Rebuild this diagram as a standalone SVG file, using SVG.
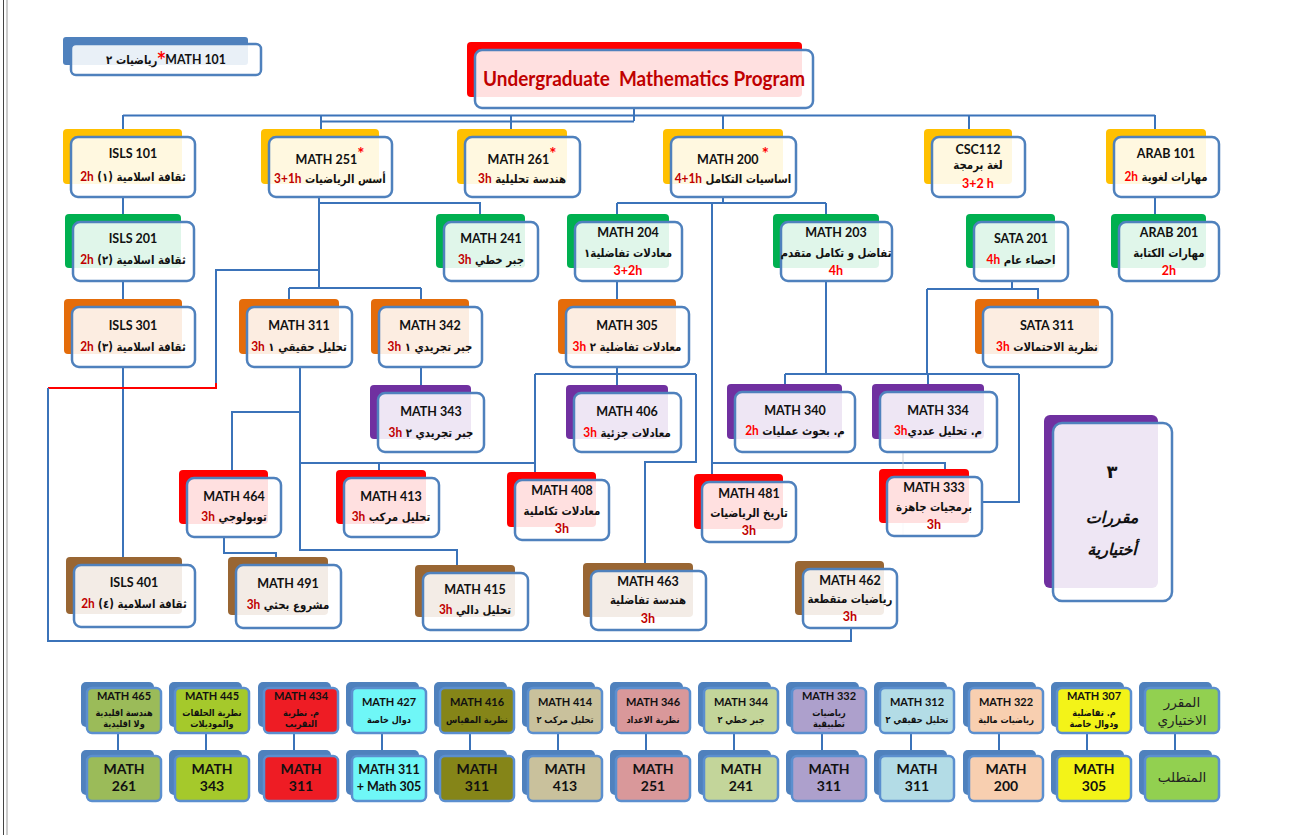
<svg xmlns="http://www.w3.org/2000/svg" width="1307" height="835" viewBox="0 0 1307 835">
<style>
  .gold{fill:#FFC000}.green{fill:#00B050}.orange{fill:#E46C0A}.purple{fill:#7030A0}
  .red{fill:#FF0000}.brown{fill:#996633}.blue{fill:#4F81BD}
  .face{fill:#fff;fill-opacity:.88;stroke:#4F81BD;stroke-width:2.5}
  .c{font-family:Lato,'DejaVu Sans',sans-serif;font-weight:700;font-size:12.5px;fill:#111;text-anchor:middle}
  .a{font-family:'DejaVu Sans',sans-serif;font-weight:700;font-size:11.6px;fill:#111;text-anchor:middle;direction:rtl;
     transform-box:fill-box;transform-origin:center;transform:scaleX(.88)}
  .dr{fill:#C00000;font-family:Lato,sans-serif;font-size:13.5px}
  .br{fill:#FF0000;font-family:Lato,sans-serif;font-size:13.5px}
  .star{fill:#FF0000;font-size:17px}
  .wire{fill:none;stroke:#3B73B9;stroke-width:2}
  .wire-red{fill:none;stroke:#FF0000;stroke-width:2}
  .cell-bk{fill:#4F81BD}
  .cell{stroke:#5B8FCF;stroke-width:2.5}
  .tc{font-family:Lato,'DejaVu Sans',sans-serif;font-weight:700;font-size:11px;fill:#111;text-anchor:middle}
  .ta{font-family:'DejaVu Sans',sans-serif;font-weight:700;font-size:9.3px;fill:#111;text-anchor:middle;direction:rtl;
      transform-box:fill-box;transform-origin:center;transform:scaleX(.88)}
  .bc{font-family:Lato,'DejaVu Sans',sans-serif;font-weight:700;font-size:14px;fill:#111;text-anchor:middle}
  .hd{font-family:'DejaVu Sans',sans-serif;font-size:13.5px;fill:#222;text-anchor:middle;direction:rtl}
  .el{font-family:'DejaVu Sans',sans-serif;font-weight:700;font-style:italic;font-size:16px;fill:#111;text-anchor:middle;direction:rtl}
</style>
<rect width="1307" height="835" fill="#fff"/>
<!-- page edge -->
<line x1="3.5" y1="0" x2="3.5" y2="835" stroke="#444" stroke-width="1"/>
<line x1="7" y1="0" x2="7" y2="835" stroke="#999" stroke-width="1"/>

<!-- connectors -->
<g id="connectors">
  <path class="wire" d="M634,108V121M123,115.5H1155M321,121.5H634M123,115V129M321,115V129M511,115V129M723,115V129M969,115V129M1155,115V129"/>
  <path class="wire" d="M123,197V214M123,281V299M123,367V557"/>
  <path class="wire" d="M319,197V288M319,203H480V214M319,270H216V383"/>
  <path class="wire-red" d="M216,383V388H48"/>
  <path class="wire" d="M48,388V641H851V628"/>
  <path class="wire" d="M289,288H421M289,288V299M421,288V299"/>
  <path class="wire" d="M300,367V550H457V565M300,412H232V470M300,463H535M379,463V470M224,537V553H276V557"/>
  <path class="wire" d="M421,367V385"/>
  <path class="wire" d="M617,367V374M535,374H696M535,374V472M617,374V385M696,374V462H645V563"/>
  <path class="wire" d="M723,197V203M617,203H826M617,203V214M826,203V214M712,203V474M712,463H945V469"/>
  <path class="wire" d="M617,281V299"/>
  <path class="wire" d="M826,281V374M785,374H1019M785,374V384M928,374V384M1019,374V502H982"/>
  <path class="wire" d="M1012,281V289M927,289H1038V299M927,289V374"/>
  <path class="wire" d="M1155,197V214"/>
  <line x1="903" y1="452" x2="903" y2="537" stroke="#B8C0CC" stroke-width="0.8"/>
</g>

<!-- title -->
<g id="title">
  <rect class="red" x="467" y="42" width="335" height="55" rx="4"/>
  <rect class="face" x="475" y="50" width="338" height="58" rx="7"/>
  <text x="644" y="86" text-anchor="middle" textLength="322" lengthAdjust="spacingAndGlyphs" font-family="Lato, sans-serif" font-weight="700" font-size="21" fill="#C00000">Undergraduate&#160; Mathematics Program</text>
</g>

<g id="math101">
  <rect class="blue" x="63" y="37" width="185" height="28" rx="3"/>
  <rect class="face" x="71" y="44" width="190" height="31" rx="5"/>
  <text class="a" x="166" y="64"><tspan font-family="Lato, sans-serif" font-size="14">MATH 101</tspan><tspan class="star">*</tspan>رياضيات ٢</text>
</g>

<!-- first level -->
<g id="isls101">
  <rect class="gold" x="63" y="129" width="119" height="55" rx="4"/>
  <rect class="face" x="71" y="137" width="124" height="60" rx="7"/>
  <text class="c" x="133" y="158">ISLS 101</text>
  <text class="a" x="133" y="181">ثقافة اسلامية (١) <tspan class="dr">&#x2066;2h&#x2069;</tspan></text>
</g>
<g id="math251">
  <rect class="gold" x="261" y="129" width="118" height="55" rx="4"/>
  <rect class="face" x="269" y="137" width="123" height="60" rx="7"/>
  <text class="c" x="330" y="164">MATH 251<tspan class="star" dy="-4">*</tspan></text>
  <text class="a" x="330" y="183">أسس الرياضيات <tspan class="dr">&#x2066;3+1h&#x2069;</tspan></text>
</g>
<g id="math261">
  <rect class="gold" x="457" y="129" width="110" height="55" rx="4"/>
  <rect class="face" x="465" y="137" width="115" height="60" rx="7"/>
  <text class="c" x="522" y="164">MATH 261<tspan class="star" dy="-4">*</tspan></text>
  <text class="a" x="522" y="183">هندسة تحليلية  <tspan class="dr">&#x2066;3h&#x2069;</tspan></text>
</g>
<g id="math200">
  <rect class="gold" x="663" y="129" width="120" height="55" rx="4"/>
  <rect class="face" x="671" y="137" width="125" height="60" rx="7"/>
  <text class="c" x="733" y="164">MATH 200 <tspan class="star" dy="-4">*</tspan></text>
  <text class="a" x="733" y="183">اساسيات التكامل  <tspan class="dr">&#x2066;4+1h&#x2069;</tspan></text>
</g>
<g id="csc112">
  <rect class="gold" x="924" y="129" width="88" height="55" rx="4"/>
  <rect class="face" x="932" y="137" width="93" height="60" rx="7"/>
  <text class="c" x="978" y="154">CSC112</text>
  <text class="a" x="978" y="169">لغة برمجة</text>
  <text class="c" x="978" y="188" style="fill:#FF0000">3+2 h</text>
</g>
<g id="arab101">
  <rect class="gold" x="1106" y="129" width="100" height="55" rx="4"/>
  <rect class="face" x="1114" y="137" width="105" height="60" rx="7"/>
  <text class="c" x="1166" y="158">ARAB 101</text>
  <text class="a" x="1166" y="181">مهارات لغوية <tspan class="br">&#x2066;2h&#x2069;</tspan></text>
</g>

<!-- second level -->
<g id="isls201">
  <rect class="green" x="65" y="214" width="116" height="54" rx="4"/>
  <rect class="face" x="73" y="222" width="121" height="59" rx="7"/>
  <text class="c" x="133" y="243">ISLS 201</text>
  <text class="a" x="133" y="264">ثقافة اسلامية (٢) <tspan class="dr">&#x2066;2h&#x2069;</tspan></text>
</g>
<g id="math241">
  <rect class="green" x="436" y="214" width="89" height="54" rx="4"/>
  <rect class="face" x="444" y="222" width="94" height="59" rx="7"/>
  <text class="c" x="491" y="243">MATH 241</text>
  <text class="a" x="491" y="264">جبر خطي <tspan class="dr">&#x2066;3h&#x2069;</tspan></text>
</g>
<g id="math204">
  <rect class="green" x="567" y="214" width="102" height="54" rx="4"/>
  <rect class="face" x="575" y="222" width="107" height="59" rx="7"/>
  <text class="c" x="628" y="237">MATH 204</text>
  <text class="a" x="628" y="257">معادلات تفاضلية١</text>
  <text class="c" x="628" y="275" style="fill:#FF0000">3+2h</text>
</g>
<g id="math203">
  <rect class="green" x="773" y="214" width="106" height="54" rx="4"/>
  <rect class="face" x="781" y="222" width="111" height="59" rx="7"/>
  <text class="c" x="836" y="237">MATH 203</text>
  <text class="a" x="836" y="257">تفاضل و تكامل متقدم</text>
  <text class="c" x="836" y="275" style="fill:#FF0000">4h</text>
</g>
<g id="sata201">
  <rect class="green" x="966" y="214" width="89" height="54" rx="4"/>
  <rect class="face" x="974" y="222" width="94" height="59" rx="7"/>
  <text class="c" x="1021" y="243">SATA 201</text>
  <text class="a" x="1021" y="264">احصاء عام  <tspan class="br">&#x2066;4h&#x2069;</tspan></text>
</g>
<g id="arab201">
  <rect class="green" x="1111" y="214" width="95" height="54" rx="4"/>
  <rect class="face" x="1119" y="222" width="100" height="59" rx="7"/>
  <text class="c" x="1169" y="237">ARAB 201</text>
  <text class="a" x="1169" y="257">مهارات الكتابة</text>
  <text class="c" x="1169" y="275" style="fill:#FF0000">2h</text>
</g>

<!-- third level -->
<g id="isls301">
  <rect class="orange" x="64" y="299" width="118" height="55" rx="4"/>
  <rect class="face" x="72" y="307" width="123" height="60" rx="7"/>
  <text class="c" x="133" y="330">ISLS 301</text>
  <text class="a" x="133" y="351">ثقافة اسلامية (٣) <tspan class="dr">&#x2066;2h&#x2069;</tspan></text>
</g>
<g id="math311">
  <rect class="orange" x="239" y="299" width="100" height="55" rx="4"/>
  <rect class="face" x="247" y="307" width="105" height="60" rx="7"/>
  <text class="c" x="299" y="330">MATH 311</text>
  <text class="a" x="299" y="351">تحليل حقيقي ١  <tspan class="dr">&#x2066;3h&#x2069;</tspan></text>
</g>
<g id="math342">
  <rect class="orange" x="371" y="299" width="98" height="55" rx="4"/>
  <rect class="face" x="379" y="307" width="103" height="60" rx="7"/>
  <text class="c" x="430" y="330">MATH 342</text>
  <text class="a" x="430" y="351">جبر تجريدي ١  <tspan class="dr">&#x2066;3h&#x2069;</tspan></text>
</g>
<g id="math305">
  <rect class="orange" x="558" y="299" width="118" height="55" rx="4"/>
  <rect class="face" x="566" y="307" width="123" height="60" rx="7"/>
  <text class="c" x="627" y="330">MATH 305</text>
  <text class="a" x="627" y="351">معادلات تفاضلية ٢ <tspan class="br">&#x2066;3h&#x2069;</tspan></text>
</g>
<g id="sata311">
  <rect class="orange" x="975" y="299" width="124" height="55" rx="4"/>
  <rect class="face" x="983" y="307" width="129" height="60" rx="7"/>
  <text class="c" x="1047" y="330">SATA 311</text>
  <text class="a" x="1047" y="351">نظرية الاحتمالات <tspan class="br">&#x2066;3h&#x2069;</tspan></text>
</g>

<!-- fourth level -->
<g id="math343">
  <rect class="purple" x="370" y="385" width="101" height="54" rx="4"/>
  <rect class="face" x="378" y="393" width="106" height="59" rx="7"/>
  <text class="c" x="431" y="416">MATH 343</text>
  <text class="a" x="431" y="437">جبر تجريدي ٢  <tspan class="dr">&#x2066;3h&#x2069;</tspan></text>
</g>
<g id="math406">
  <rect class="purple" x="566" y="385" width="102" height="54" rx="4"/>
  <rect class="face" x="574" y="393" width="107" height="59" rx="7"/>
  <text class="c" x="627" y="416">MATH 406</text>
  <text class="a" x="627" y="437">معادلات جزئية <tspan class="br">&#x2066;3h&#x2069;</tspan></text>
</g>
<g id="math340">
  <rect class="purple" x="727" y="384" width="115" height="55" rx="4"/>
  <rect class="face" x="735" y="392" width="120" height="60" rx="7"/>
  <text class="c" x="795" y="415">MATH 340</text>
  <text class="a" x="795" y="435">م. بحوث عمليات <tspan class="br">&#x2066;2h&#x2069;</tspan></text>
</g>
<g id="math334">
  <rect class="purple" x="872" y="384" width="112" height="55" rx="4"/>
  <rect class="face" x="880" y="392" width="117" height="60" rx="7"/>
  <text class="c" x="938" y="415">MATH 334</text>
  <text class="a" x="938" y="435">م. تحليل عددي<tspan class="br">&#x2066;3h&#x2069;</tspan></text>
</g>
<g id="electives">
  <rect class="purple" x="1044" y="415" width="114" height="173" rx="6"/>
  <rect class="face" x="1053" y="423" width="119" height="178" rx="9"/>
  <text class="el" x="1112" y="478" style="font-style:normal;font-size:18px">٣</text>
  <text class="el" x="1112" y="523">مقررات</text>
  <text class="el" x="1112" y="555">أختيارية</text>
</g>

<!-- fifth level -->
<g id="math464">
  <rect class="red" x="179" y="470" width="89" height="54" rx="4"/>
  <rect class="face" x="187" y="478" width="94" height="59" rx="7"/>
  <text class="c" x="234" y="501">MATH 464</text>
  <text class="a" x="234" y="521">توبولوجي <tspan class="dr">&#x2066;3h&#x2069;</tspan></text>
</g>
<g id="math413">
  <rect class="red" x="336" y="470" width="90" height="54" rx="4"/>
  <rect class="face" x="344" y="478" width="95" height="59" rx="7"/>
  <text class="c" x="391" y="501">MATH 413</text>
  <text class="a" x="391" y="521">تحليل مركب <tspan class="dr">&#x2066;3h&#x2069;</tspan></text>
</g>
<g id="math408">
  <rect class="red" x="507" y="472" width="89" height="55" rx="4"/>
  <rect class="face" x="515" y="480" width="94" height="60" rx="7"/>
  <text class="c" x="562" y="495">MATH 408</text>
  <text class="a" x="562" y="515">معادلات تكاملية</text>
  <text class="c" x="562" y="533" style="fill:#C00000">3h</text>
</g>
<g id="math481">
  <rect class="red" x="694" y="474" width="89" height="55" rx="4"/>
  <rect class="face" x="702" y="482" width="94" height="60" rx="7"/>
  <text class="c" x="749" y="498">MATH 481</text>
  <text class="a" x="749" y="517">تاريخ الرياضيات</text>
  <text class="c" x="749" y="535" style="fill:#C00000">3h</text>
</g>
<g id="math333">
  <rect class="red" x="879" y="469" width="90" height="54" rx="4"/>
  <rect class="face" x="887" y="477" width="95" height="59" rx="7"/>
  <text class="c" x="934" y="492">MATH 333</text>
  <text class="a" x="934" y="511">برمجيات جاهزة</text>
  <text class="c" x="934" y="529" style="fill:#C00000">3h</text>
</g>

<!-- sixth level -->
<g id="isls401">
  <rect class="brown" x="66" y="557" width="116" height="57" rx="4"/>
  <rect class="face" x="74" y="565" width="121" height="62" rx="7"/>
  <text class="c" x="134" y="587">ISLS 401</text>
  <text class="a" x="134" y="608">ثقافة اسلامية (٤) <tspan class="dr">&#x2066;2h&#x2069;</tspan></text>
</g>
<g id="math491">
  <rect class="brown" x="228" y="557" width="100" height="58" rx="4"/>
  <rect class="face" x="236" y="565" width="105" height="63" rx="7"/>
  <text class="c" x="288" y="588">MATH 491</text>
  <text class="a" x="288" y="609">مشروع بحثي <tspan class="dr">&#x2066;3h&#x2069;</tspan></text>
</g>
<g id="math415">
  <rect class="brown" x="415" y="565" width="100" height="52" rx="4"/>
  <rect class="face" x="423" y="573" width="105" height="57" rx="7"/>
  <text class="c" x="475" y="594">MATH 415</text>
  <text class="a" x="475" y="614">تحليل دالي <tspan class="dr">&#x2066;3h&#x2069;</tspan></text>
</g>
<g id="math463">
  <rect class="brown" x="583" y="563" width="110" height="54" rx="4"/>
  <rect class="face" x="591" y="571" width="115" height="59" rx="7"/>
  <text class="c" x="648" y="586">MATH 463</text>
  <text class="a" x="648" y="604">هندسة تفاضلية</text>
  <text class="c" x="648" y="623" style="fill:#C00000">3h</text>
</g>
<g id="math462">
  <rect class="brown" x="795" y="561" width="89" height="54" rx="4"/>
  <rect class="face" x="803" y="569" width="94" height="59" rx="7"/>
  <text class="c" x="850" y="585">MATH 462</text>
  <text class="a" x="850" y="603">رياضيات متقطعة</text>
  <text class="c" x="850" y="621" style="fill:#C00000">3h</text>
</g>

<!-- elective courses and their prerequisites -->
<g id="elective-table">
  <g id="col-465">
    <line x1="118" y1="733" x2="118" y2="751" class="wire"/>
    <rect class="cell-bk" x="81" y="682" width="73" height="45" rx="5"/>
    <rect class="cell" x="87" y="688" width="74" height="45" rx="5" fill="#9BBB59"/>
    <text class="tc" x="124" y="700">MATH 465</text>
    <text class="ta" x="124" y="716">هندسة اقليدية</text>
    <text class="ta" x="124" y="727">ولا اقليدية</text>
    <rect class="cell-bk" x="81" y="750" width="73" height="45" rx="5"/>
    <rect class="cell" x="87" y="756" width="74" height="45" rx="5" fill="#9BBB59"/>
    <text class="bc" x="124" y="774">MATH</text><text class="bc" x="124" y="791">261</text>
  </g>
  <g id="col-445">
    <line x1="206" y1="733" x2="206" y2="751" class="wire"/>
    <rect class="cell-bk" x="169" y="682" width="73" height="45" rx="5"/>
    <rect class="cell" x="175" y="688" width="74" height="45" rx="5" fill="#A5C92B"/>
    <text class="tc" x="212" y="700">MATH 445</text>
    <text class="ta" x="212" y="716">نظرية الحلقات</text>
    <text class="ta" x="212" y="727">والموديلات</text>
    <rect class="cell-bk" x="169" y="750" width="73" height="45" rx="5"/>
    <rect class="cell" x="175" y="756" width="74" height="45" rx="5" fill="#A5C92B"/>
    <text class="bc" x="212" y="774">MATH</text><text class="bc" x="212" y="791">343</text>
  </g>
  <g id="col-434">
    <line x1="294" y1="733" x2="294" y2="751" class="wire"/>
    <rect class="cell-bk" x="258" y="682" width="73" height="45" rx="5"/>
    <rect class="cell" x="264" y="688" width="74" height="45" rx="5" fill="#EE1C24"/>
    <text class="tc" x="301" y="700">MATH 434</text>
    <text class="ta" x="301" y="716">م. نظرية</text>
    <text class="ta" x="301" y="727">التقريب</text>
    <rect class="cell-bk" x="258" y="750" width="73" height="45" rx="5"/>
    <rect class="cell" x="264" y="756" width="74" height="45" rx="5" fill="#EE1C24"/>
    <text class="bc" x="301" y="774">MATH</text><text class="bc" x="301" y="791">311</text>
  </g>
  <g id="col-427">
    <line x1="382" y1="733" x2="382" y2="751" class="wire"/>
    <rect class="cell-bk" x="346" y="682" width="73" height="45" rx="5"/>
    <rect class="cell" x="352" y="688" width="74" height="45" rx="5" fill="#6FF7F7"/>
    <text class="tc" x="389" y="706">MATH 427</text>
    <text class="ta" x="389" y="723">دوال خاصة</text>
    <rect class="cell-bk" x="346" y="750" width="73" height="45" rx="5"/>
    <rect class="cell" x="352" y="756" width="74" height="45" rx="5" fill="#6FF7F7"/>
    <text class="bc" x="389" y="774" style="font-size:12.5px">MATH 311</text><text class="bc" x="389" y="791" style="font-size:12.5px">+ Math 305</text>
  </g>
  <g id="col-416">
    <line x1="470" y1="733" x2="470" y2="751" class="wire"/>
    <rect class="cell-bk" x="434" y="682" width="73" height="45" rx="5"/>
    <rect class="cell" x="440" y="688" width="74" height="45" rx="5" fill="#858518"/>
    <text class="tc" x="477" y="706">MATH 416</text>
    <text class="ta" x="477" y="723">نظرية المقياس</text>
    <rect class="cell-bk" x="434" y="750" width="73" height="45" rx="5"/>
    <rect class="cell" x="440" y="756" width="74" height="45" rx="5" fill="#858518"/>
    <text class="bc" x="477" y="774">MATH</text><text class="bc" x="477" y="791">311</text>
  </g>
  <g id="col-414">
    <line x1="558" y1="733" x2="558" y2="751" class="wire"/>
    <rect class="cell-bk" x="522" y="682" width="73" height="45" rx="5"/>
    <rect class="cell" x="528" y="688" width="74" height="45" rx="5" fill="#C9C19C"/>
    <text class="tc" x="565" y="706">MATH 414</text>
    <text class="ta" x="565" y="723">تحليل مركب ٢</text>
    <rect class="cell-bk" x="522" y="750" width="73" height="45" rx="5"/>
    <rect class="cell" x="528" y="756" width="74" height="45" rx="5" fill="#C9C19C"/>
    <text class="bc" x="565" y="774">MATH</text><text class="bc" x="565" y="791">413</text>
  </g>
  <g id="col-346">
    <line x1="646" y1="733" x2="646" y2="751" class="wire"/>
    <rect class="cell-bk" x="610" y="682" width="73" height="45" rx="5"/>
    <rect class="cell" x="616" y="688" width="74" height="45" rx="5" fill="#D9989A"/>
    <text class="tc" x="653" y="706">MATH 346</text>
    <text class="ta" x="653" y="723">نظرية الاعداد</text>
    <rect class="cell-bk" x="610" y="750" width="73" height="45" rx="5"/>
    <rect class="cell" x="616" y="756" width="74" height="45" rx="5" fill="#D9989A"/>
    <text class="bc" x="653" y="774">MATH</text><text class="bc" x="653" y="791">251</text>
  </g>
  <g id="col-344">
    <line x1="734" y1="733" x2="734" y2="751" class="wire"/>
    <rect class="cell-bk" x="698" y="682" width="73" height="45" rx="5"/>
    <rect class="cell" x="704" y="688" width="74" height="45" rx="5" fill="#C3D59A"/>
    <text class="tc" x="741" y="706">MATH 344</text>
    <text class="ta" x="741" y="723">جبر خطي ٢</text>
    <rect class="cell-bk" x="698" y="750" width="73" height="45" rx="5"/>
    <rect class="cell" x="704" y="756" width="74" height="45" rx="5" fill="#C3D59A"/>
    <text class="bc" x="741" y="774">MATH</text><text class="bc" x="741" y="791">241</text>
  </g>
  <g id="col-332">
    <line x1="822" y1="733" x2="822" y2="751" class="wire"/>
    <rect class="cell-bk" x="786" y="682" width="73" height="45" rx="5"/>
    <rect class="cell" x="792" y="688" width="74" height="45" rx="5" fill="#ADA0CC"/>
    <text class="tc" x="829" y="700">MATH 332</text>
    <text class="ta" x="829" y="716">رياضيات</text>
    <text class="ta" x="829" y="727">تطبيقية</text>
    <rect class="cell-bk" x="786" y="750" width="73" height="45" rx="5"/>
    <rect class="cell" x="792" y="756" width="74" height="45" rx="5" fill="#ADA0CC"/>
    <text class="bc" x="829" y="774">MATH</text><text class="bc" x="829" y="791">311</text>
  </g>
  <g id="col-312">
    <line x1="911" y1="733" x2="911" y2="751" class="wire"/>
    <rect class="cell-bk" x="874" y="682" width="73" height="45" rx="5"/>
    <rect class="cell" x="880" y="688" width="74" height="45" rx="5" fill="#B3DCE6"/>
    <text class="tc" x="917" y="706">MATH 312</text>
    <text class="ta" x="917" y="723">تحليل حقيقي ٢</text>
    <rect class="cell-bk" x="874" y="750" width="73" height="45" rx="5"/>
    <rect class="cell" x="880" y="756" width="74" height="45" rx="5" fill="#B3DCE6"/>
    <text class="bc" x="917" y="774">MATH</text><text class="bc" x="917" y="791">311</text>
  </g>
  <g id="col-322">
    <line x1="999" y1="733" x2="999" y2="751" class="wire"/>
    <rect class="cell-bk" x="963" y="682" width="73" height="45" rx="5"/>
    <rect class="cell" x="969" y="688" width="74" height="45" rx="5" fill="#F8CFB0"/>
    <text class="tc" x="1006" y="706">MATH 322</text>
    <text class="ta" x="1006" y="723">رياضيات مالية</text>
    <rect class="cell-bk" x="963" y="750" width="73" height="45" rx="5"/>
    <rect class="cell" x="969" y="756" width="74" height="45" rx="5" fill="#F8CFB0"/>
    <text class="bc" x="1006" y="774">MATH</text><text class="bc" x="1006" y="791">200</text>
  </g>
  <g id="col-307">
    <line x1="1087" y1="733" x2="1087" y2="751" class="wire"/>
    <rect class="cell-bk" x="1051" y="682" width="73" height="45" rx="5"/>
    <rect class="cell" x="1057" y="688" width="74" height="45" rx="5" fill="#F3F318"/>
    <text class="tc" x="1094" y="700">MATH 307</text>
    <text class="ta" x="1094" y="716">م. تفاضلية</text>
    <text class="ta" x="1094" y="727">ودوال خاصة</text>
    <rect class="cell-bk" x="1051" y="750" width="73" height="45" rx="5"/>
    <rect class="cell" x="1057" y="756" width="74" height="45" rx="5" fill="#F3F318"/>
    <text class="bc" x="1094" y="774">MATH</text><text class="bc" x="1094" y="791">305</text>
  </g>
  <g id="col-head">
    <line x1="1175" y1="733" x2="1175" y2="751" class="wire"/>
    <rect class="cell-bk" x="1139" y="682" width="73" height="45" rx="5"/>
    <rect class="cell" x="1145" y="688" width="74" height="45" rx="5" fill="#92D050"/>
    <text class="hd" x="1182" y="707">المقرر</text>
    <text class="hd" x="1182" y="725">الاختياري</text>
    <rect class="cell-bk" x="1139" y="750" width="73" height="45" rx="5"/>
    <rect class="cell" x="1145" y="756" width="74" height="45" rx="5" fill="#92D050"/>
    <text class="hd" x="1182" y="782">المتطلب</text>
  </g>
</g>
</svg>
